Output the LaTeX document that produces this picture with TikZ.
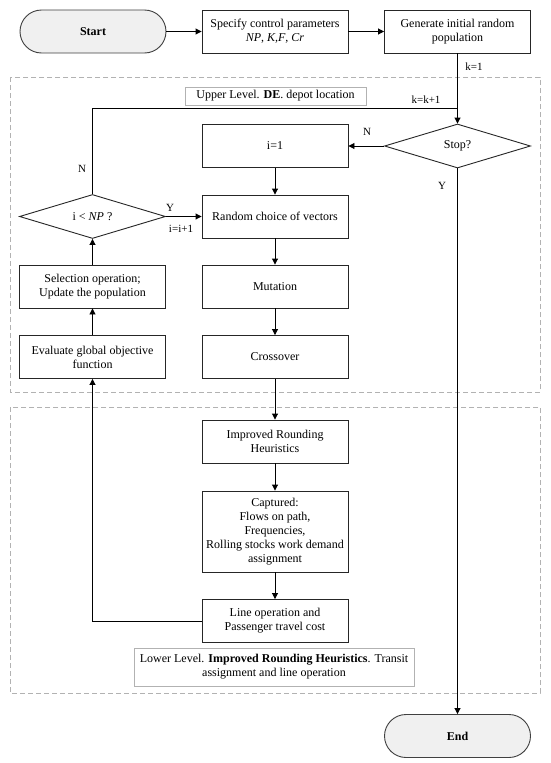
\documentclass[tikz,border=0pt]{standalone}
\usepackage{fontspec}
\setmainfont{Liberation Serif}
\usetikzlibrary{arrows.meta,shapes.geometric}
\begin{document}
\begin{tikzpicture}[x=1pt,y=-1pt,
  font=\fontsize{12}{14}\selectfont,
  proc/.style={draw=black!85,line width=0.9pt,fill=white,minimum width=146pt,minimum height=43pt,inner sep=2pt,align=center},
  term/.style={draw=black!75,line width=0.9pt,fill=black!6,minimum width=146pt,minimum height=43pt,rounded corners=21.5pt,inner sep=2pt,font=\fontsize{12}{14}\selectfont\bfseries},
  dec/.style={draw=black!85,line width=0.9pt,fill=white,diamond,minimum width=146pt,minimum height=44pt,inner sep=0pt,aspect=3.3},
  lvl/.style={draw=black!30,line width=0.6pt,fill=white,inner sep=3pt,align=center},
  region/.style={draw=black!30,dashed,dash pattern=on 5pt off 3pt,line width=0.6pt},
  arr/.style={line width=0.9pt,draw=black,-{Triangle[length=6pt,width=6pt]}},
  ln/.style={line width=0.9pt,draw=black},
  lab/.style={font=\fontsize{11}{13}\selectfont,inner sep=0pt}
]
\useasboundingbox (0,0) rectangle (550,763);
\fill[white] (0,0) rectangle (550,763);
% regions
\draw[region] (10,77) rectangle (540,392);
\draw[region] (10,407) rectangle (540,693);
% top row
\node[term] (start) at (93,31.5) {Start};
\node[proc] (spec) at (275,31.5) {Specify control parameters\\\textit{NP}, \textit{K,F}, \textit{Cr}};
\node[proc] (gen) at (457.5,31.5) {Generate initial random\\population};
% level labels
\node[lvl, minimum width=181pt, minimum height=18pt] (upl) at (275.5,96) {Upper Level. \textbf{DE}. depot location};
\node[lvl, minimum width=280pt, minimum height=38pt] (lowl) at (274,667) {Lower Level. \textbf{Improved Rounding Heuristics}. Transit\\assignment and line operation};
% decisions
\node[dec] (stop) at (457.5,146) {Stop?};
\node[dec] (np) at (92.5,216.5) {i {<} \textit{NP} ?};
% main column
\node[proc] (i1) at (275,146) {i=1};
\node[proc] (rand) at (275,216.5) {Random choice of vectors};
\node[proc] (mut) at (275,286.5) {Mutation};
\node[proc] (cross) at (275,357) {Crossover};
\node[proc] (irh) at (275,441.5) {Improved Rounding\\Heuristics};
\node[proc, minimum height=81pt] (capt) at (275,531.5) {Captured:\\Flows on path,\\Frequencies,\\Rolling stocks work demand\\assignment};
\node[proc] (lineop) at (275,621) {Line operation and\\Passenger travel cost};
% left column
\node[proc] (sel) at (92.5,286.5) {Selection operation;\\Update the population};
\node[proc] (eval) at (92.5,357) {Evaluate global objective\\function};
% end
\node[term] (end) at (457.5,736) {End};
% coordinates
\coordinate (loopl) at (92.5,108);
\coordinate (loopr) at (457.5,108);
% connectors
\draw[arr] (start) -- (spec);
\draw[arr] (spec) -- (gen);
\draw[arr] (gen) -- (stop);
\draw[ln] (np.north) -- (loopl) -- (loopr);
\draw[arr] (stop.west) -- (i1.east);
\draw[arr] (stop.south) -- (end.north);
\draw[arr] (i1) -- (rand);
\draw[arr] (rand) -- (mut);
\draw[arr] (mut) -- (cross);
\draw[arr] (cross) -- (irh);
\draw[arr] (irh) -- (capt);
\draw[arr] (capt) -- (lineop);
\draw[arr] (np.east) -- (rand.west);
\draw[arr] (lineop.west) -| (eval.south);
\draw[arr] (eval) -- (sel);
\draw[arr] (sel) -- (np);
% labels
\node[lab] (lk1) at (474,67) {k=1};
\node[lab] (lkk) at (426,100) {k=k+1};
\node[lab] (ln1) at (367,132) {N};
\node[lab] (ly1) at (442,186) {Y};
\node[lab] (ln2) at (82,169) {N};
\node[lab] (ly2) at (170,208) {Y};
\node[lab] (lii) at (181,229) {i=i+1};
\end{tikzpicture}
\end{document}
